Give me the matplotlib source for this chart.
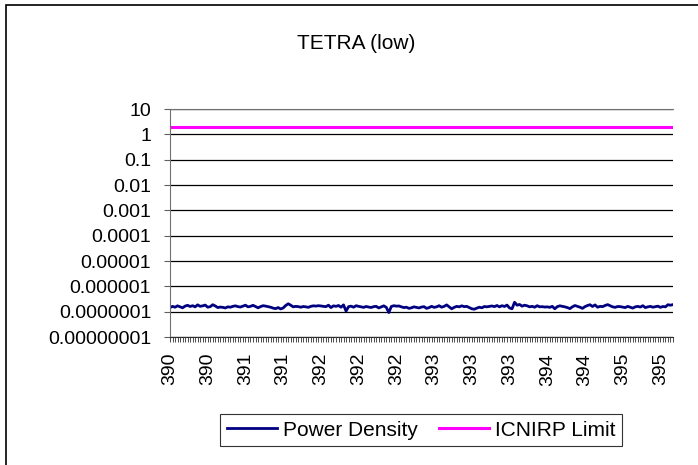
import numpy as np
import matplotlib.pyplot as plt
from matplotlib.patches import Rectangle

plt.rcParams['font.family'] = ['Liberation Sans', 'DejaVu Sans']

# power density readings (W/m2), 201 channels 390..395 MHz, in units of 1e-7
power_density_e7 = [
    1.45, 1.62, 1.50, 1.70, 1.55, 1.42, 1.66, 1.78, 1.60, 1.72, 1.55, 1.86, 1.62, 1.70, 1.82, 1.50, 1.58, 1.88, 1.68, 1.45,
    1.52, 1.48, 1.40, 1.55, 1.50, 1.62, 1.70, 1.58, 1.52, 1.66, 1.80, 1.55, 1.62, 1.78, 1.60, 1.42, 1.58, 1.72, 1.66, 1.58,
    1.50, 1.38, 1.32, 1.45, 1.28, 1.40, 1.75, 2.05, 1.80, 1.55, 1.62, 1.58, 1.50, 1.60, 1.55, 1.48, 1.62, 1.70, 1.66, 1.72,
    1.68, 1.62, 1.58, 1.80, 1.45, 1.70, 1.62, 1.75, 1.50, 1.85, 1.05, 1.58, 1.65, 1.50, 1.72, 1.62, 1.55, 1.48, 1.60, 1.52,
    1.46, 1.58, 1.62, 1.40, 1.55, 1.70, 1.48, 0.92, 1.60, 1.72, 1.65, 1.68, 1.55, 1.45, 1.50, 1.35, 1.42, 1.55, 1.48, 1.40,
    1.52, 1.58, 1.35, 1.45, 1.62, 1.48, 1.55, 1.72, 1.50, 1.62, 1.85, 1.55, 1.30, 1.48, 1.62, 1.55, 1.70, 1.58, 1.62, 1.45,
    1.30, 1.25, 1.38, 1.50, 1.42, 1.60, 1.55, 1.62, 1.68, 1.58, 1.75, 1.55, 1.72, 1.60, 1.82, 1.40, 1.30, 2.35, 1.80, 1.92,
    1.65, 1.80, 1.70, 1.55, 1.62, 1.50, 1.72, 1.55, 1.58, 1.52, 1.55, 1.48, 1.62, 1.30, 1.58, 1.70, 1.62, 1.55, 1.45, 1.32,
    1.55, 1.75, 1.62, 1.50, 1.35, 1.58, 1.75, 1.88, 1.60, 1.85, 1.50, 1.62, 1.58, 1.75, 1.90, 1.72, 1.55, 1.48, 1.60, 1.58,
    1.52, 1.45, 1.62, 1.50, 1.38, 1.55, 1.62, 1.52, 1.72, 1.45, 1.55, 1.62, 1.50, 1.58, 1.65, 1.48, 1.60, 1.55, 1.88, 1.80,
    1.90,
]
icnirp_limit = 1.95
x_labels = ['390', '390', '391', '391', '392', '392', '392',
            '393', '393', '393', '394', '394', '395', '395']
label_step = 15
y_ticks = [1e-8, 1e-7, 1e-6, 1e-5, 1e-4, 1e-3, 1e-2, 1e-1, 1, 10]
y_labels = ['0.00000001', '0.0000001', '0.000001', '0.00001', '0.0001',
            '0.001', '0.01', '0.1', '1', '10']

pd_vals = np.array(power_density_e7) * 1e-7
x = np.arange(len(pd_vals))
limit = np.full(len(pd_vals), icnirp_limit)

fig = plt.figure(figsize=(6.98, 4.65), dpi=100)
ax = fig.add_axes([170/698, 1-337/465, 503/698, 228/465])

ax.plot(x, pd_vals, color='#000080', lw=2.0, label='Power Density')
ax.plot(x, limit, color='#FF00FF', lw=2.2, label='ICNIRP Limit')

ax.set_yscale('log')
ax.set_ylim(1e-8, 10)
ax.set_xlim(0, len(pd_vals)-1)
ax.set_yticks(y_ticks)
ax.set_yticklabels(y_labels)
ax.minorticks_off()
ax.yaxis.grid(True, color='black', lw=0.9)
ax.set_axisbelow(True)

ax.set_xticks(x[::label_step])
ax.set_xticklabels(x_labels, rotation=90)
ax.set_xticks(x, minor=True)
ax.tick_params(axis='x', which='both', direction='out', length=3.5, width=0.6,
               colors='#303030', labelcolor='black', labelsize=14, pad=8)
ax.tick_params(axis='y', direction='out', length=4.5, width=0.8,
               colors='#606060', labelcolor='black', labelsize=14, pad=9)

ax.spines['right'].set_visible(False)
ax.spines['left'].set_color('#707070')
ax.spines['top'].set_color('#707070')
ax.spines['bottom'].set_color('#303030')

fig.text(356/698, 1-43/465, 'TETRA (low)', ha='center', va='center', fontsize=15)

leg = fig.legend(loc='center', bbox_to_anchor=(421/698, 1-430/465), ncol=2,
                 fontsize=15, frameon=True, fancybox=False, handlelength=2.4,
                 handletextpad=0.3, columnspacing=1.0, borderpad=0.3)
leg.get_frame().set_edgecolor('black')
leg.get_frame().set_linewidth(0.8)

# chart area border (Excel style)
fig.patches.append(Rectangle((6/698, -0.1), 1.2, 1.1 - 5/465, transform=fig.transFigure,
                             fill=False, edgecolor='black', lw=1.2))

fig.savefig('out.png', dpi=100)
